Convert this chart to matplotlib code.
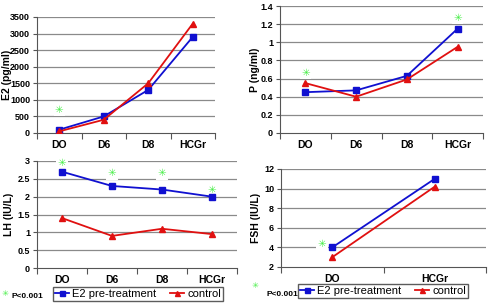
import matplotlib.pyplot as plt
import numpy as np

plt.rcParams['font.family'] = ['Liberation Sans', 'DejaVu Sans']

cats4 = ["DO", "D6", "D8", "HCGr"]
cats2 = ["DO", "HCGr"]

e2_treat = [100, 500, 1300, 2900]
e2_ctrl = [50, 400, 1500, 3300]
e2_star = {0: 700}

p_treat = [0.45, 0.47, 0.63, 1.15]
p_ctrl = [0.55, 0.40, 0.59, 0.95]
p_star = {0: 0.66, 3: 1.27}

lh_treat = [2.7, 2.3, 2.2, 2.0]
lh_ctrl = [1.4, 0.9, 1.1, 0.95]
lh_star = {0: 2.95, 1: 2.65, 2: 2.65, 3: 2.2}

fsh_treat = [4, 11]
fsh_ctrl = [3, 10.2]
fsh_star = {0: 4.3}

blue = "#1010d0"
red = "#e01010"
green = "#44ee44"

fig = plt.figure(figsize=(4.89, 3.04), dpi=100)
W, H = 489.0, 304.0

def mkax(x0, y0, x1, y1):
    return fig.add_axes([x0 / W, 1 - y1 / H, (x1 - x0) / W, (y1 - y0) / H])

def panel(ax, cats, treat, ctrl, stars, ylim, yticks, ylabel, ytl, lab_x, star_dx=0.0):
    x = np.arange(len(cats))
    ax.set_xlim(-0.5, len(cats) - 0.5)
    ax.set_ylim(*ylim)
    ax.set_yticks(yticks)
    ax.set_yticklabels(ytl, fontsize=6.5, fontweight="bold")
    for t in yticks[1:]:
        ax.axhline(t, color="#8a8a8a", lw=0.9, zorder=0)
    l1, = ax.plot(x, treat, color=blue, marker="s", ms=4.5, lw=1.3, zorder=3)
    l2, = ax.plot(x, ctrl, color=red, marker="^", ms=4.5, lw=1.3, zorder=3)
    for k, v in stars.items():
        ax.text(k + star_dx, v, "✳", color=green, fontsize=7.5, ha="center", va="center",
                family="DejaVu Sans", zorder=2,
                bbox=dict(facecolor="white", edgecolor="none", pad=0.8))
    ax.set_xticks(np.arange(len(cats) + 1) - 0.5)
    ax.set_xticklabels([])
    ax.set_xticks(x, minor=True)
    ax.set_xticklabels(cats, minor=True, fontsize=7.5, fontweight="bold")
    ax.tick_params(axis="x", which="minor", length=0, pad=5)
    ax.tick_params(axis="x", which="major", length=4, direction="out", color="#555555")
    ax.tick_params(axis="y", length=3, direction="out", pad=2, color="#555555")
    for s in ["top", "right"]:
        ax.spines[s].set_visible(False)
    ax.spines["bottom"].set_color("#555555")
    ax.spines["left"].set_color("#555555")
    ax.set_ylabel(ylabel, fontsize=7.5, fontweight="bold")
    # put label centre at a given pixel x
    bb = ax.get_position()
    ax.yaxis.set_label_coords((lab_x / W - bb.x0) / bb.width, 0.5)
    ax.yaxis.label.set_va("center")
    return l1, l2

ax1 = mkax(37, 17, 215, 133)
panel(ax1, cats4, e2_treat, e2_ctrl, e2_star, (0, 3500), np.arange(0, 3501, 500),
      "E2 (pg/ml)", [str(v) for v in range(0, 3501, 500)], 7)

ax2 = mkax(280, 6, 483, 133)
pt = [0, 0.2, 0.4, 0.6, 0.8, 1.0, 1.2, 1.4]
panel(ax2, cats4, p_treat, p_ctrl, p_star, (0, 1.4), pt, "P (ng/ml)",
      ["0", "0.2", "0.4", "0.6", "0.8", "1", "1.2", "1.4"], 255)

ax3 = mkax(37, 161, 237, 268)
lt = [0, 0.5, 1, 1.5, 2, 2.5, 3]
l1, l2 = panel(ax3, cats4, lh_treat, lh_ctrl, lh_star, (0, 3), lt, "LH (IU/L)",
               ["0", "0.5", "1", "1.5", "2", "2.5", "3"], 9)

ax4 = mkax(281, 169, 486, 267)
ft = [2, 4, 6, 8, 10, 12]
panel(ax4, cats2, fsh_treat, fsh_ctrl, fsh_star, (2, 12), ft, "FSH (IU/L)",
      [str(v) for v in ft], 256, star_dx=-0.1)

for (lx, ly) in [(138 / W, 1 - 294 / H), (383 / W, 1 - 291 / H)]:
    fig.legend([l1, l2], ["E2 pre-treatment", "control"], loc="center",
               bbox_to_anchor=(lx, ly), ncol=2, fontsize=8, frameon=True,
               fancybox=False, edgecolor="#333333", handlelength=1.3,
               handletextpad=0.3, columnspacing=1.2, borderpad=0.15,
               borderaxespad=0, markerscale=0.8)

for (sx, sy, tx, ty) in [(5, 293, 12, 297), (255, 286, 267, 294)]:
    fig.text(sx / W, 1 - sy / H, "✳", color=green, fontsize=6, ha="center", va="center",
             family="DejaVu Sans")
    fig.text(tx / W, 1 - ty / H, "P<0.001", fontsize=6, fontweight="bold", va="center")

fig.savefig("out.png", dpi=100)
